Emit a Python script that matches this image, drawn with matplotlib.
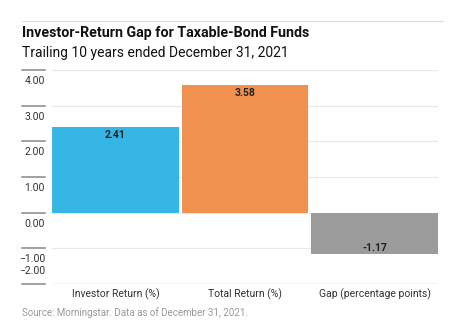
import matplotlib
matplotlib.use('Agg')
import matplotlib.pyplot as plt
import matplotlib.transforms as mtransforms

# data
categories = ['Investor Return (%)', 'Total Return (%)', 'Gap (percentage points)']
values = [2.41, 3.58, -1.17]
colors = ['#35b6e5', '#f0914f', '#9b9b9b']
yticks = [-2, -1, 0, 1, 2, 3, 4]

plt.rcParams['font.family'] = ['Roboto', 'DejaVu Sans']

fig = plt.figure(figsize=(4.71, 3.27), dpi=100)
ax = fig.add_axes([52/471, 1 - 284/327, 386/471, 214/327])

w = 0.977
xs = list(range(len(categories)))
ax.bar(xs, values, width=w, color=colors, zorder=2)
ax.set_xlim(-w/2, len(categories) - 1 + w/2)
ax.set_ylim(yticks[0], yticks[-1])

# gridlines
for t in yticks:
    c = '#aaaaaa' if t == yticks[0] else '#e8e8e8'
    ax.axhline(t, color=c, lw=0.9, zorder=1)

# y labels with short rules on the left
blend = mtransforms.blended_transform_factory(ax.transAxes, ax.transData)
for t in yticks:
    ax.plot([-30/386, -7/386], [t, t], transform=blend, color='#888888', lw=1.1,
            clip_on=False, zorder=3)
    off = -8 if t == yticks[0] else 6
    lab = '%.2f' % t if t >= 0 else '\u2212%.2f' % abs(t)
    ax.annotate(lab, xy=(-7/386, t), xycoords=blend,
                xytext=(0, -off*0.72), textcoords='offset points',
                ha='right', va='top' if t != yticks[0] else 'bottom',
                fontsize=7.5, color='#333333')

# value labels
for x, v in zip(xs, values):
    if v >= 0:
        ax.annotate('%.2f' % v, xy=(x, v), xytext=(0, -2.5), textcoords='offset points',
                    ha='center', va='top', fontsize=7.5, fontweight='bold', color='#222222')
    else:
        ax.annotate('%.2f' % v, xy=(x, v), xytext=(0, 1), textcoords='offset points',
                    ha='center', va='bottom', fontsize=7.5, fontweight='bold', color='#222222')

ax.set_xticks(xs)
ax.set_xticklabels(categories, fontsize=7.5, color='#333333')
ax.tick_params(axis='x', length=0, pad=3)
ax.set_yticks([])
for s in ax.spines.values():
    s.set_visible(False)

# header
fig.add_artist(plt.Line2D([22/471, 443/471], [1 - 21/327, 1 - 21/327], color='#dddddd', lw=0.9))
fig.text(22/471, 1 - 33/327, 'Investor-Return Gap for Taxable-Bond Funds', fontsize=10.3,
         fontweight='bold', va='center', ha='left', color='#111111')
fig.text(22/471, 1 - 53/327, 'Trailing 10 years ended December 31, 2021', fontsize=10,
         va='center', ha='left', color='#111111')
fig.text(22/471, 1 - 313/327, 'Source: Morningstar. Data as of December 31, 2021.', fontsize=7,
         va='center', ha='left', color='#999999')

fig.savefig('out.png', dpi=100)
